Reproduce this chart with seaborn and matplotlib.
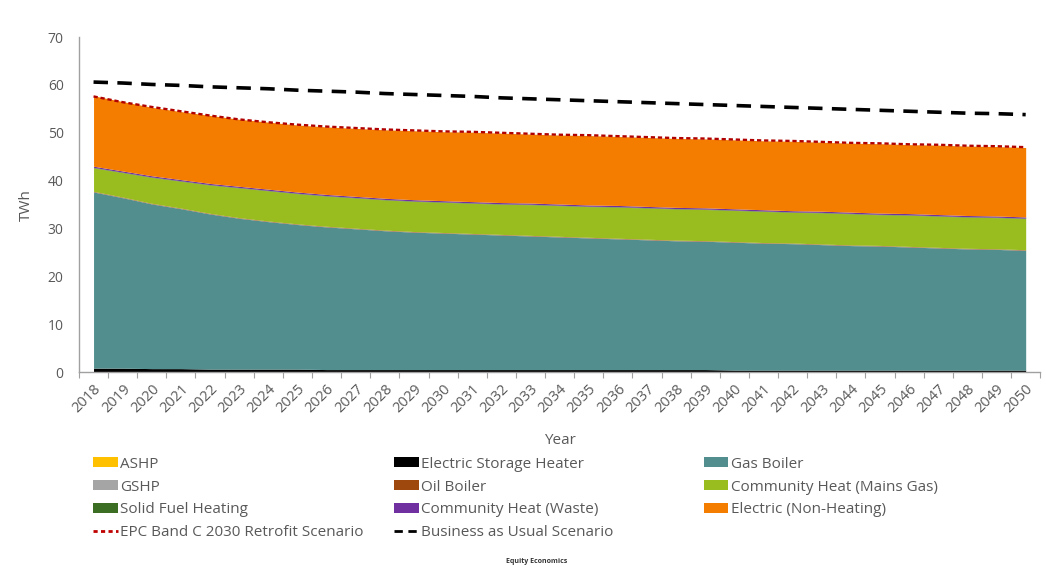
import matplotlib
matplotlib.use("Agg")
import matplotlib.pyplot as plt
from matplotlib.patches import Patch
from matplotlib.lines import Line2D
import numpy as np
import pandas as pd
import seaborn as sns

years = list(range(2018, 2051))

# TWh per heating source (bottom -> top)
ashp = [0.05] * 33
storage_heater = [0.8, 0.8, 0.7, 0.7, 0.6, 0.6, 0.6, 0.6, 0.5, 0.5, 0.5, 0.5, 0.5, 0.5, 0.5, 0.5,
                  0.5, 0.5, 0.5, 0.5, 0.5, 0.5, 0.4, 0.4, 0.4, 0.4, 0.4, 0.4, 0.4, 0.4, 0.4, 0.4, 0.4]
gas_boiler = [36.8, 35.6, 34.4, 33.4, 32.4, 31.5, 30.8, 30.2, 29.8, 29.4, 29.0, 28.7, 28.5, 28.3, 28.1, 27.9,
              27.7, 27.5, 27.3, 27.1, 26.9, 26.8, 26.7, 26.5, 26.4, 26.2, 26.0, 25.9, 25.7, 25.5, 25.3, 25.2, 25.0]
gshp = [0.03] * 33
oil_boiler = [0.1] * 33
ch_mains_gas = [4.9, 5.1, 5.4, 5.6, 5.9, 6.2, 6.3, 6.3, 6.3, 6.3, 6.3, 6.3, 6.3, 6.3, 6.3, 6.4,
                6.4, 6.4, 6.5, 6.5, 6.5, 6.5, 6.5, 6.5, 6.4, 6.5, 6.5, 6.4, 6.5, 6.5, 6.5, 6.5, 6.5]
solid_fuel = [0.1] * 33
ch_waste = [0.25] * 33
electric_non_heating = [14.7, 14.5, 14.3, 14.2, 14.2, 14.0, 14.0, 14.0, 14.1, 14.2, 14.3, 14.4, 14.4, 14.5, 14.5, 14.4,
                        14.4, 14.5, 14.4, 14.4, 14.4, 14.4, 14.4, 14.4, 14.5, 14.4, 14.4, 14.5, 14.4, 14.5, 14.5, 14.5, 14.5]

# scenario totals
epc_retrofit = [57.6, 56.4, 55.4, 54.5, 53.6, 52.8, 52.2, 51.7, 51.3, 51.0, 50.7, 50.5, 50.3, 50.2, 50.0, 49.8,
                49.6, 49.5, 49.3, 49.1, 48.9, 48.8, 48.6, 48.4, 48.3, 48.1, 47.9, 47.8, 47.6, 47.5, 47.3, 47.2, 47.0]
business_as_usual = [60.6, 60.4, 60.1, 59.9, 59.6, 59.4, 59.2, 58.9, 58.7, 58.5, 58.2, 58.0, 57.8, 57.6, 57.3, 57.1,
                     56.9, 56.7, 56.5, 56.3, 56.1, 55.9, 55.7, 55.5, 55.3, 55.1, 54.9, 54.7, 54.5, 54.3, 54.1, 54.0, 53.8]

layers = [
    ("ASHP", ashp, "#FFC000"),
    ("Electric Storage Heater", storage_heater, "#000000"),
    ("Gas Boiler", gas_boiler, "#528E8E"),
    ("GSHP", gshp, "#A5A5A5"),
    ("Oil Boiler", oil_boiler, "#9E480E"),
    ("Community Heat (Mains Gas)", ch_mains_gas, "#99BD1F"),
    ("Solid Fuel Heating", solid_fuel, "#3B6E22"),
    ("Community Heat (Waste)", ch_waste, "#7030A0"),
    ("Electric (Non-Heating)", electric_non_heating, "#F47D00"),
]

sns.set_theme(style="white")
plt.rcParams["font.family"] = ["Open Sans", "DejaVu Sans"]

fig = plt.figure(figsize=(10.46, 5.70), dpi=100)
ax = fig.add_axes([0.0755, 0.347, 0.919, 0.588])

x = np.arange(len(years))
ax.stackplot(x, [l[1] for l in layers], colors=[l[2] for l in layers], linewidth=0)

lines = pd.DataFrame({"x": x, "epc": epc_retrofit, "bau": business_as_usual})
sns.lineplot(data=lines, x="x", y="bau", ax=ax, color="black", linewidth=2.6)
ax.lines[-1].set_dashes([4, 2.6])
sns.lineplot(data=lines, x="x", y="epc", ax=ax, color="#B00000", linewidth=1.7)
ax.lines[-1].set_dashes([1.8, 1.2])

ax.set_xlim(-0.5, len(years) - 0.5)
ax.set_ylim(0, 70)
ax.set_yticks(range(0, 71, 10))
ax.set_xticks(x)
ax.set_xticklabels([str(y) for y in years], rotation=45, ha="right", rotation_mode="anchor")
ax.set_xticks(np.arange(-0.5, len(years)), minor=True)
ax.tick_params(axis="x", which="major", length=0, pad=7, labelsize=10.5, colors="#595959")
ax.tick_params(axis="x", which="minor", length=4, width=0.8, color="#A0A0A0", direction="out", bottom=True)
ax.tick_params(axis="y", length=0, labelsize=10, colors="#595959", pad=11)

for side in ["top", "right"]:
    ax.spines[side].set_visible(False)
for side in ["left", "bottom"]:
    ax.spines[side].set_color("#A0A0A0")
    ax.spines[side].set_linewidth(1.0)

ax.set_xlabel("Year", fontsize=11, color="#595959", labelpad=12)
ax.set_ylabel("TWh", fontsize=11, color="#595959")
ax.yaxis.set_label_coords(-0.047, 0.5)

lookup = {name: (vals, col) for name, vals, col in layers}
def patch(name):
    return Patch(facecolor=lookup[name][1], edgecolor="none", label=name)

columns = [
    (0.089, [patch("ASHP"), patch("GSHP"), patch("Solid Fuel Heating"),
             Line2D([0], [0], color="#C00000", linewidth=2, dashes=[1.5, 1.2],
                    label="EPC Band C 2030 Retrofit Scenario")]),
    (0.377, [patch("Electric Storage Heater"), patch("Oil Boiler"), patch("Community Heat (Waste)"),
             Line2D([0], [0], color="black", linewidth=2, dashes=[3, 2], label="Business as Usual Scenario")]),
    (0.673, [patch("Gas Boiler"), patch("Community Heat (Mains Gas)"), patch("Electric (Non-Heating)")]),
]
for xpos, hs in columns:
    leg = fig.legend(handles=hs, ncol=1, loc="upper left", bbox_to_anchor=(xpos, 0.199),
                     frameon=False, fontsize=11, handlelength=1.6, handleheight=0.6,
                     handletextpad=0.15, labelspacing=0.52, borderaxespad=0, borderpad=0)
    for t in leg.get_texts():
        t.set_color("#595959")

fig.text(0.513, 0.012, "Equity Economics", fontsize=5, color="#333333", ha="center", weight="bold")

fig.savefig("out.png", dpi=100, facecolor="white")
